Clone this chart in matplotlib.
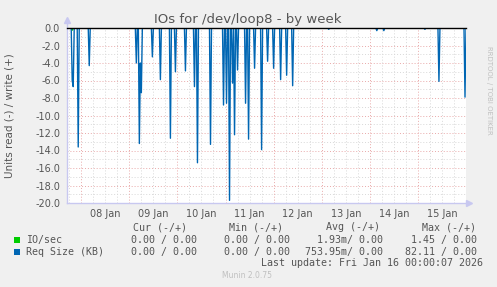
import numpy as np
import matplotlib
matplotlib.use("Agg")
import matplotlib.pyplot as plt

# ---- data (hours since 07 Jan 00:00, read values shown negative) ----
req_hours = [19.5, 20.0, 22.5, 28.0, 51.5, 53.0, 53.5, 54.0, 59.5, 63.5, 68.5,
             71.0, 76.0, 80.5, 82.0, 88.5, 95.0, 96.5, 98.0, 99.5, 100.5, 102.0,
             106.0, 107.5, 110.5, 114.0, 117.0, 120.0, 123.5, 126.5, 129.5,
             147.5, 171.5, 175.0, 195.5, 202.5, 215.5]
req_values = [-6.0, -6.7, -13.6, -4.3, -4.0, -13.2, -4.0, -7.4, -3.3, -5.9, -12.6,
              -5.0, -4.9, -6.7, -15.4, -13.3, -8.8, -8.6, -19.7, -6.3, -12.2, -4.8,
              -8.6, -12.7, -4.6, -13.9, -3.8, -4.6, -5.9, -5.4, -6.6,
              -0.15, -0.3, -0.3, -0.15, -6.1, -7.9]
io_hours = [19.5]
io_values = [-0.25]

day_labels = ["08 Jan", "09 Jan", "10 Jan", "11 Jan", "12 Jan", "13 Jan", "14 Jan", "15 Jan"]
legend_rows = [
    ("IO/sec", "#00cc00", ["0.00 / 0.00", "0.00 / 0.00", "1.93m/ 0.00", "1.45 / 0.00"]),
    ("Req Size (KB)", "#0066b3", ["0.00 / 0.00", "0.00 / 0.00", "753.95m/ 0.00", "82.11 / 0.00"]),
]
headers = ["Cur (-/+)", "Min (-/+)", "Avg (-/+)", "Max (-/+)"]

# ---- build 30-min sample series ----
t0, t1 = 16.9, 216.0
grid_t = np.arange(17.0, 216.01, 0.5)

def series(hours, vals):
    y = np.zeros_like(grid_t)
    for h, v in zip(hours, vals):
        i = int(round((h - grid_t[0]) / 0.5))
        y[i] = v
    return y

W, H = 497, 287
fig = plt.figure(figsize=(W / 100, H / 100), dpi=100, facecolor="#f0f0f0")
L, R, T, B = 67, 466, 28, 203
ax = fig.add_axes([L / W, 1 - B / H, (R - L) / W, (B - T) / H])
ax.set_facecolor("white")
ax.set_xlim(t0, t1)
ax.set_ylim(-20, 0)

txt = "#555555"
# grids
for yv in np.arange(-19, 0, 1):
    col = "#e9a9a9" if yv % 2 == 0 else "#d8d8d8"
    ax.axhline(yv, color=col, lw=0.7, ls=(0, (1, 2)), zorder=1)
ax.axhline(-20, color="#e9a9a9", lw=0.7, ls=(0, (1, 2)), zorder=1)
for xv in np.arange(18, 216, 6):
    col = "#e9a9a9" if xv % 24 == 0 else "#d8d8d8"
    ax.axvline(xv, color=col, lw=0.7, ls=(0, (1, 2)), zorder=1)

ax.plot(grid_t, series(io_hours, io_values), color="#00cc00", lw=1.0, zorder=3)
ax.plot(grid_t, series(req_hours, req_values), color="#0066b3", lw=1.0, zorder=4)
ax.axhline(0, color="black", lw=1.0, zorder=5, clip_on=False)

for s in ax.spines.values():
    s.set_visible(False)
ax.plot([t0, t0], [-20, 0.9], color="#c8c8f0", lw=1, clip_on=False, zorder=2)
ax.plot([t0, t1 + 1.5], [-20, -20], color="#c8c8f0", lw=1, clip_on=False, zorder=2)
ax.plot([t0], [0.9], marker="^", color="#c8c8f0", ms=4, clip_on=False)
ax.plot([t1 + 1.5], [-20], marker=">", color="#c8c8f0", ms=4, clip_on=False)

ax.set_yticks(np.arange(-20, 0.1, 2))
ax.set_yticklabels([f"{v:.1f}" for v in np.arange(-20, 0.1, 2)])
ax.set_xticks(np.arange(36, 216, 24))
ax.set_xticklabels(day_labels)
ax.tick_params(length=0, labelsize=7, colors=txt, pad=5)
ax.tick_params(axis="x", pad=4)

fig.text(248 / W, 1 - 19 / H, "IOs for /dev/loop8 - by week", ha="center", va="center",
         fontsize=9.5, color=txt)
fig.text(10 / W, 1 - 115.5 / H, "Units read (-) / write (+)", ha="center", va="center",
         rotation=90, fontsize=7.5, color=txt)
fig.text(489 / W, 1 - 90 / H, "RRDTOOL / TOBI OETIKER", ha="center", va="center",
         rotation=270, fontsize=5, color="#c0c0c0")

mono = "DejaVu Sans Mono"
fs = 7.2
hdr_right = [187, 283, 380, 476]
val_right = [197, 290, 383, 477]
for hx, htxt in zip(hdr_right, headers):
    fig.text(hx / W, 1 - 227.3 / H, htxt, ha="right", va="center", family=mono, fontsize=fs, color=txt)
for (lab, col, vals), yy in zip(legend_rows, [239.7, 251.7]):
    fig.patches.append(plt.Rectangle((14 / W, 1 - (yy + 3) / H), 6 / W, 6 / H,
                                     transform=fig.transFigure, facecolor=col, edgecolor="none"))
    fig.text(26 / W, 1 - yy / H, lab, ha="left", va="center", family=mono, fontsize=fs, color=txt)
    for vx, v in zip(val_right, vals):
        fig.text(vx / W, 1 - yy / H, v, ha="right", va="center", family=mono, fontsize=fs, color=txt)
fig.text(483 / W, 1 - 263.3 / H, "Last update: Fri Jan 16 00:00:07 2026", ha="right", va="center",
         family=mono, fontsize=fs, color=txt)
fig.text(247 / W, 1 - 276 / H, "Munin 2.0.75", ha="center", va="center", fontsize=5.5, color="#c0c0c0")

fig.savefig("out.png", dpi=100, facecolor=fig.get_facecolor())
